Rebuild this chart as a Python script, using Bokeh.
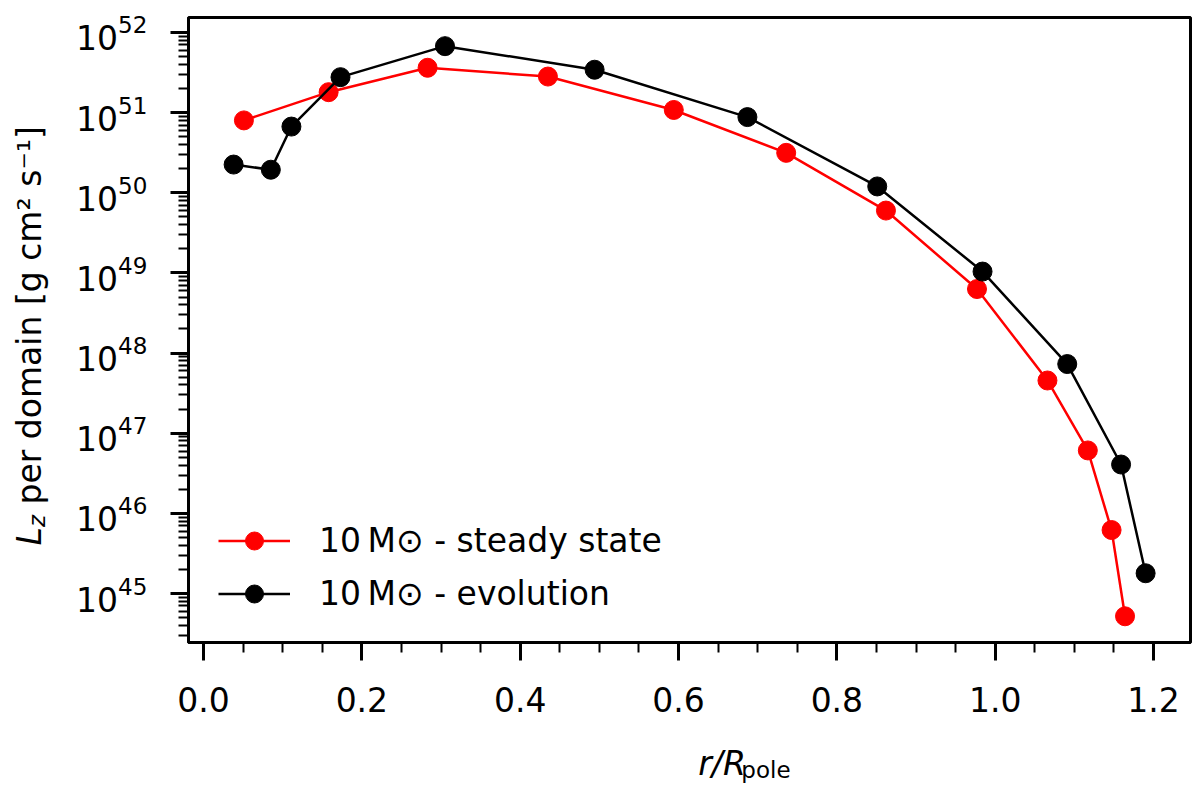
from bokeh.plotting import figure
from bokeh.layouts import row, column
from bokeh.models import (FixedTicker, LogTickFormatter, NumeralTickFormatter,
                          Legend, LegendItem, Label, Range1d)
from bokeh.embed import file_html
from bokeh.resources import INLINE
import numpy as np

# values (r / R_pole, L_z per domain in g cm^2 s^-1)
r_steady = [0.051, 0.158, 0.283, 0.435, 0.594, 0.736, 0.862, 0.977, 1.066, 1.117, 1.147, 1.164]
lz_steady = [8.0e50, 1.8e51, 3.63e51, 2.82e51, 1.08e51, 3.15e50, 6.0e49, 6.3e48,
             4.55e47, 6.1e46, 6.2e45, 5.2e44]

r_evol = [0.038, 0.085, 0.111, 0.173, 0.305, 0.494, 0.687, 0.851, 0.984, 1.091, 1.159, 1.190]
lz_evol = [2.25e50, 1.94e50, 6.7e50, 2.77e51, 6.75e51, 3.43e51, 8.8e50, 1.2e50, 1.04e49,
           7.3e47, 4.07e46, 1.79e45]

series_labels = ["10\u2009M\u2299 - steady state", "10\u2009M\u2299 - evolution"]
x_ticks = [0.0, 0.2, 0.4, 0.6, 0.8, 1.0, 1.2]
y_exponents = [45, 46, 47, 48, 49, 50, 51, 52]

FONT = "DejaVu Sans"
W, H = 1200, 785
LEFT_W = 60      # strip holding the y axis title
BOTTOM_H = 45    # strip holding the x axis title
FL, FR, FT, FB = 188, 1190, 17, 642   # frame edges on the page


def strip(width, height):
    f = figure(width=width, height=height, x_range=Range1d(0, width), y_range=Range1d(0, height),
               x_axis_location=None, y_axis_location=None, output_backend="svg",
               toolbar_location=None, min_border_left=0, min_border_right=0,
               min_border_top=0, min_border_bottom=0)
    f.outline_line_color = None
    f.grid.visible = False
    return f


p = figure(width=W - LEFT_W, height=H - BOTTOM_H, y_axis_type="log",
           x_range=Range1d(-0.019, 1.2467), y_range=Range1d(10**44.389, 10**52.187),
           output_backend="svg", toolbar_location=None,
           min_border_left=FL - LEFT_W, min_border_right=W - FR,
           min_border_top=FT, min_border_bottom=H - BOTTOM_H - FB)
p.grid.visible = False
p.outline_line_color = "black"
p.outline_line_width = 3
p.background_fill_color = "white"
p.border_fill_color = "white"

p.xaxis.ticker = FixedTicker(ticks=x_ticks,
                             minor_ticks=[round(0.05 * i, 2) for i in range(0, 26)])
p.xaxis.formatter = NumeralTickFormatter(format="0.0")
p.yaxis.ticker = FixedTicker(ticks=[10.0 ** e for e in y_exponents],
                             minor_ticks=[m * 10.0 ** e for e in range(44, 53) for m in range(2, 10)])
p.yaxis.formatter = LogTickFormatter()

for ax in (p.xaxis[0], p.yaxis[0]):
    ax.axis_line_width = 3
    ax.axis_line_color = "black"
    ax.major_tick_line_width = 3
    ax.minor_tick_line_width = 2
    ax.major_tick_out = 18
    ax.major_tick_in = 0
    ax.minor_tick_out = 10
    ax.minor_tick_in = 0
    ax.major_label_text_font = FONT
    ax.major_label_text_font_size = "33px"
    ax.major_label_text_color = "black"
p.xaxis.major_label_standoff = 26
p.yaxis.major_label_standoff = 23

red_line = p.line(r_steady, lz_steady, line_color="red", line_width=2.5)
red_pts = p.scatter(r_steady, lz_steady, size=19, fill_color="red", line_color="red", line_width=1)
blk_line = p.line(r_evol, lz_evol, line_color="black", line_width=2.5)
blk_pts = p.scatter(r_evol, lz_evol, size=19, fill_color="black", line_color="black", line_width=1)

legend = Legend(items=[LegendItem(label=series_labels[0], renderers=[red_line, red_pts]),
                       LegendItem(label=series_labels[1], renderers=[blk_line, blk_pts])],
                location=(30, 26), orientation="vertical",
                glyph_width=72, glyph_height=45, label_height=45, spacing=8,
                padding=0, margin=0, label_standoff=29,
                label_text_font=FONT, label_text_font_size="33px", label_text_color="black",
                border_line_color=None, background_fill_alpha=0)
p.add_layout(legend)

# axis titles live in two plain strips so nothing clips them
ystrip = strip(LEFT_W, H)
xstrip = strip(W - LEFT_W, BOTTOM_H)


def put(fig, text, px, py, size="33px", style="normal", angle=0.0, dx=0):
    fig.add_layout(Label(x=px - dx, y=H - py, text=text, angle=angle, text_font=FONT,
                         text_font_size=size, text_font_style=style, text_color="black",
                         text_align="left", text_baseline="alphabetic"))


# x axis title: r/R_pole
put(xstrip, "r/R", 640, 763, style="italic", dx=LEFT_W)
put(xstrip, "pole", 689, 769, size="23px", dx=LEFT_W)

# y axis title: L_z per domain [g cm^2 s^-1]
a = np.pi / 2
put(ystrip, "L", 29, 545, style="italic", angle=a)
put(ystrip, "z", 36, 526.6, size="23px", style="italic", angle=a)
put(ystrip, "per domain [g cm\u00b2 s\u207b\u00b9]", 29, 504, angle=a)

layout = row(ystrip, column(p, xstrip))
open("out.html", "w").write(file_html(layout, INLINE))
